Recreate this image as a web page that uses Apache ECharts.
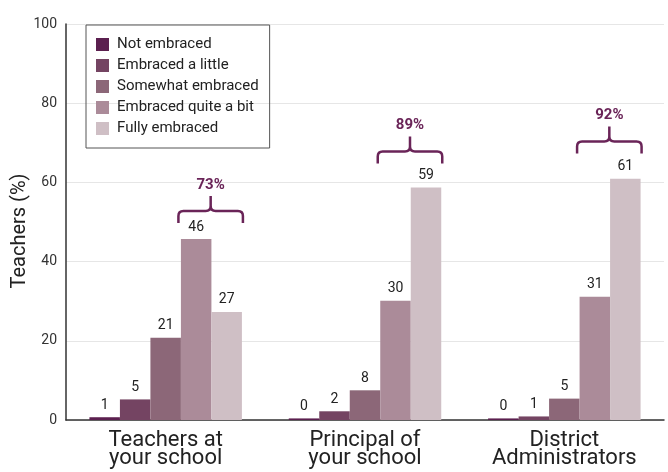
<!DOCTYPE html>
<html>
<head>
<meta charset="utf-8">
<script src="https://cdn.jsdelivr.net/npm/echarts@6/dist/echarts.min.js"></script>
<style>html,body{margin:0;padding:0;background:#fff}#c{width:668px;height:472px}</style>
</head>
<body>
<div id="c"></div>
<script>
// ---- data ----
var categories = ['Teachers at\nyour school', 'Principal of\nyour school', 'District\nAdministrators'];
var seriesNames = ['Not embraced', 'Embraced a little', 'Somewhat embraced', 'Embraced quite a bit', 'Fully embraced'];
var notEmbraced = [0.7, 0.4, 0.4];
var embracedLittle = [5.2, 2.2, 0.9];
var somewhatEmbraced = [20.8, 7.5, 5.4];
var embracedQuiteABit = [45.7, 30.1, 31.1];
var fullyEmbraced = [27.3, 58.7, 60.9];
var yTicks = [0, 20, 40, 60, 80, 100];

// ---- styles ----
var colors = ['#5b1f4f', '#744462', '#8c6778', '#ab8b99', '#cfbfc5'];
var braceColor = '#6a2458';
var FONT = 'Roboto, "Noto Sans", sans-serif';
var GAP = 0.235;

var seriesData = [notEmbraced, embracedLittle, somewhatEmbraced, embracedQuiteABit, fullyEmbraced];

var chart = echarts.init(document.getElementById('c'));

var barSeries = seriesData.map(function (arr, k) {
  return {
    name: seriesNames[k],
    type: 'bar',
    data: arr,
    barGap: '0%',
    barCategoryGap: (GAP * 100) + '%',
    itemStyle: { color: colors[k] },
    label: {
      show: true, position: 'top', distance: 5,
      fontFamily: FONT, fontSize: 14, color: '#222',
      formatter: function (p) { return Math.round(p.value); }
    },
    emphasis: { disabled: true }
  };
});

var braceData = categories.map(function (c, i) { return [i, embracedQuiteABit[i], fullyEmbraced[i]]; });

barSeries.push({
  type: 'custom',
  name: 'brace',
  silent: true,
  z: 5,
  data: braceData,
  encode: { x: 0, y: [1, 2] },
  renderItem: function (params, api) {
    var i = api.value(0), a = api.value(1), b = api.value(2);
    var cx = api.coord([i, 0])[0];
    var band = api.size([1, 0])[0];
    var total = band * (1 - GAP);
    var bw = total / 5;
    var x1 = cx - total / 2 + 3 * bw - 2.5;
    var x2 = cx + total / 2 + 1;
    var xc = (x1 + x2) / 2;
    var y = api.coord([i, Math.max(a, b) * 1.155])[1];
    var d = 12, tip = 15, r = 5;
    var path =
      'M' + x1 + ',' + (y + d) + ' L' + x1 + ',' + (y + r) +
      ' Q' + x1 + ',' + y + ' ' + (x1 + r) + ',' + y +
      ' L' + (xc - r) + ',' + y +
      ' Q' + xc + ',' + y + ' ' + xc + ',' + (y - r) +
      ' L' + xc + ',' + (y - tip) +
      ' M' + xc + ',' + (y - r) +
      ' Q' + xc + ',' + y + ' ' + (xc + r) + ',' + y +
      ' L' + (x2 - r) + ',' + y +
      ' Q' + x2 + ',' + y + ' ' + x2 + ',' + (y + r) +
      ' L' + x2 + ',' + (y + d);
    return {
      type: 'group',
      children: [
        { type: 'path', shape: { pathData: path },
          style: { stroke: braceColor, lineWidth: 2.5, fill: null, lineCap: 'butt' } },
        { type: 'text',
          style: { text: Math.round(a + b) + '%', x: xc, y: y - tip - 11,
            align: 'center', verticalAlign: 'middle',
            font: 'bold 15px ' + FONT, fill: braceColor } }
      ]
    };
  }
});

chart.setOption({
  animation: false,
  backgroundColor: '#fff',
  textStyle: { fontFamily: FONT },
  grid: { left: 66, right: 4, top: 24, bottom: 52, containLabel: false },
  legend: {
    data: seriesNames,
    orient: 'vertical',
    left: 86, top: 25,
    padding: [12, 11, 12, 10],
    itemWidth: 13, itemHeight: 13, itemGap: 6,
    icon: 'rect',
    borderColor: '#555', borderWidth: 1,
    textStyle: { fontFamily: FONT, fontSize: 15, color: '#222', padding: [0, 0, 0, 3] },
    selectedMode: false
  },
  xAxis: {
    type: 'category',
    data: categories,
    axisLine: { lineStyle: { color: '#333', width: 1.5 } },
    axisTick: { show: false },
    axisLabel: { fontFamily: FONT, fontSize: 22, color: '#222', lineHeight: 18, margin: 11, interval: 0 }
  },
  yAxis: {
    type: 'value',
    min: yTicks[0], max: yTicks[yTicks.length - 1], interval: yTicks[1] - yTicks[0],
    name: 'Teachers (%)',
    nameLocation: 'middle',
    nameGap: 36,
    nameMoveOverlap: false,
    nameTextStyle: { fontFamily: FONT, fontSize: 20, color: '#222', padding: [0, 18, 0, 0] },
    axisLine: { show: true, lineStyle: { color: '#333', width: 1.5 } },
    axisTick: { show: false },
    axisLabel: { fontFamily: FONT, fontSize: 14, color: '#333', margin: 9 },
    splitLine: { lineStyle: { color: '#e6e6e6', width: 1 } }
  },
  series: barSeries
});
</script>
</body>
</html>
